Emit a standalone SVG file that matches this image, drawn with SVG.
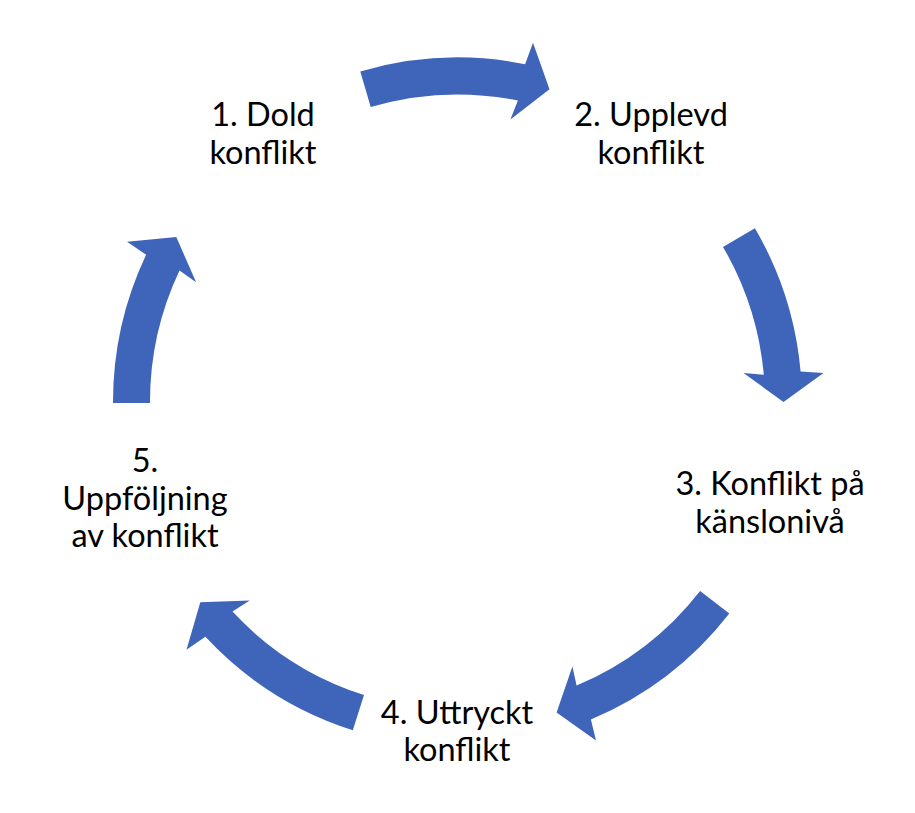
<svg xmlns="http://www.w3.org/2000/svg" width="915" height="813" viewBox="0 0 915 813">
<style>
.arrow{fill:#3F65BA;stroke:none}
.lbl{font-family:Lato,"Open Sans","Liberation Sans",sans-serif;font-size:32.5px;fill:#000;text-anchor:middle}
</style>
<rect width="915" height="813" fill="#fff"/>
<g id="connectors">
<path id="arrow1" class="arrow" d="M360.3,71.5 A344.5,344.5 0 0 1 525.1,64.2 L533.0,42.7 L549.5,89.3 L510.4,119.5 L517.9,100.5 A307.5,307.5 0 0 0 370.7,107.0 Z"/>
<path id="arrow2" class="arrow" d="M754.9,228.2 A344.5,344.5 0 0 1 800.6,371.5 L823.5,373 L783.5,402 L743.5,373 L763.8,374.8 A307.5,307.5 0 0 0 723.0,246.9 Z"/>
<path id="arrow3" class="arrow" d="M729.3,613.6 A344.5,344.5 0 0 1 590.9,719.6 L596.0,740.5 L556.6,712.6 L572.4,666.5 L576.6,685.5 A307.5,307.5 0 0 0 700.1,590.9 Z"/>
<path id="arrow4" class="arrow" d="M352.8,730.2 A344.5,344.5 0 0 1 205.4,636.8 L186.5,649.8 L200.3,602.3 L249.7,600.6 L232.5,611.6 A307.5,307.5 0 0 0 364.0,695.0 Z"/>
<path id="arrow5" class="arrow" d="M113,403 A344.5,344.5 0 0 1 146.1,254.7 L127.1,241.8 L176.3,237.0 L196.1,282.2 L179.5,270.5 A307.5,307.5 0 0 0 150,403 Z"/>
</g>
<g id="node1"><text class="lbl" x="263" y="126">1. Dold</text><text class="lbl" x="263" y="164">konflikt</text></g>
<g id="node2"><text class="lbl" x="651" y="126">2. Upplevd</text><text class="lbl" x="651" y="164">konflikt</text></g>
<g id="node3"><text class="lbl" x="770" y="495">3. Konflikt på</text><text class="lbl" x="770" y="533">känslonivå</text></g>
<g id="node4"><text class="lbl" x="457" y="724">4. Uttryckt</text><text class="lbl" x="457" y="761">konflikt</text></g>
<g id="node5"><text class="lbl" x="145" y="472">5.</text><text class="lbl" x="145" y="510">Uppföljning</text><text class="lbl" x="145" y="547">av konflikt</text></g>
</svg>
